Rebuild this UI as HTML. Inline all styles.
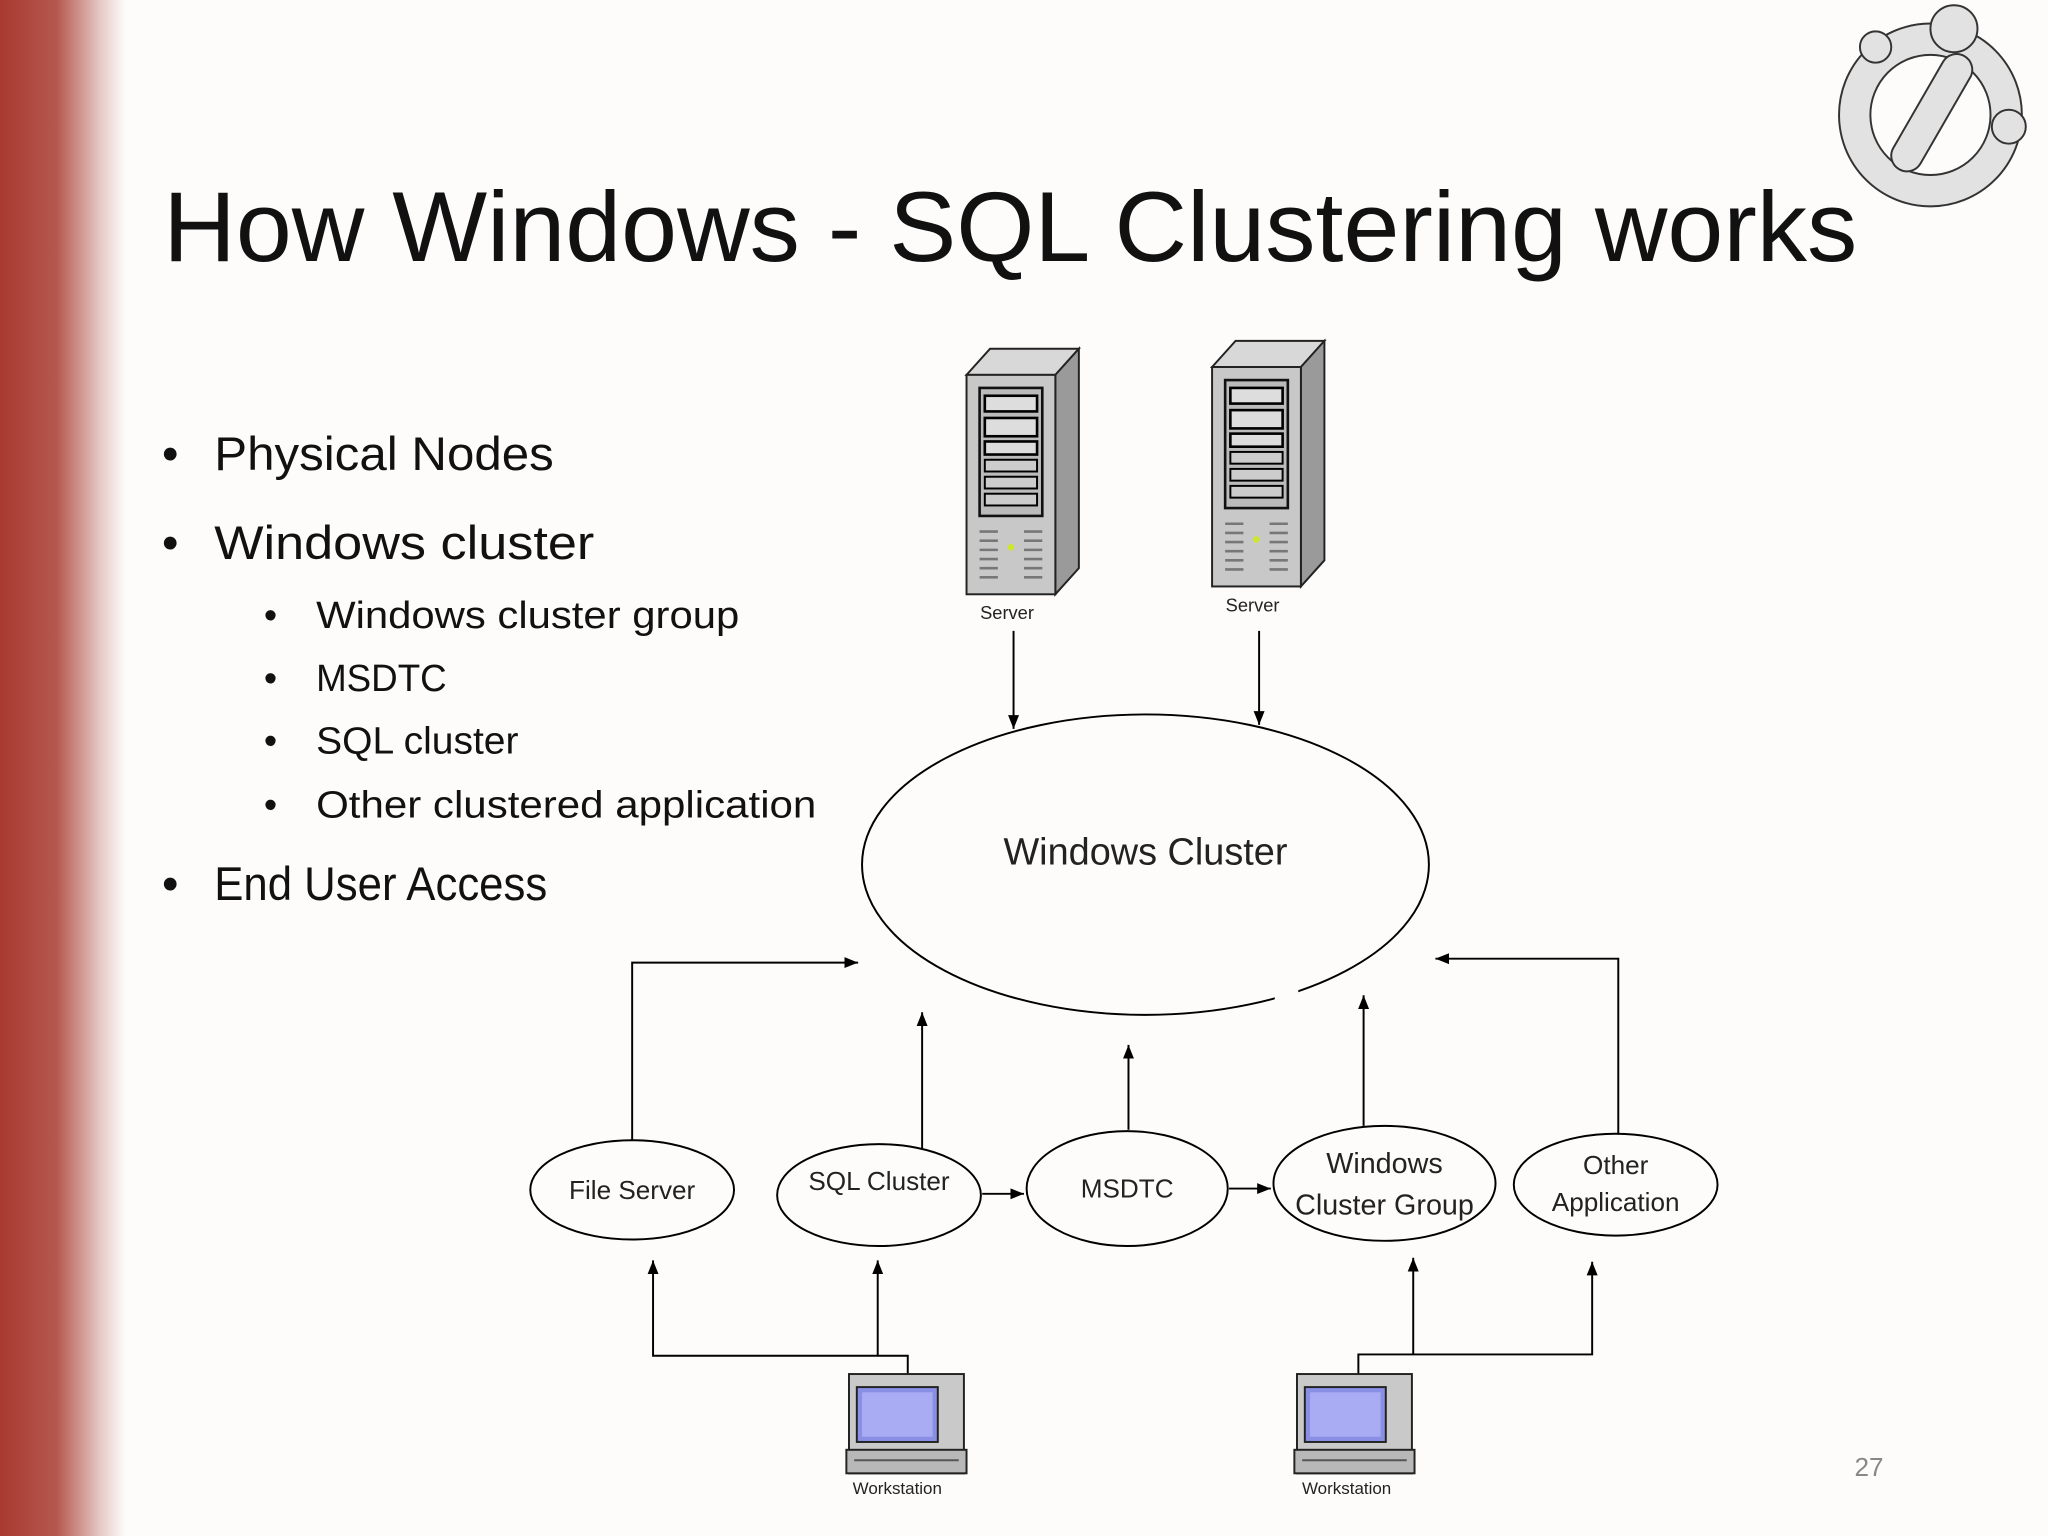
<!DOCTYPE html>
<html><head><meta charset="utf-8"><style>
html,body{margin:0;padding:0;background:#fdfcfb;}
svg{display:block;}
text{font-family:"Liberation Sans",sans-serif;}
</style></head><body>
<svg width="2048" height="1536" viewBox="0 0 1568 1176" xmlns="http://www.w3.org/2000/svg">
<defs>
<linearGradient id="rg" x1="0" x2="1" y1="0" y2="0">
<stop offset="0" stop-color="#a83a30"/><stop offset="0.45" stop-color="#b5574e"/><stop offset="0.8" stop-color="#e6c9c5"/><stop offset="1" stop-color="#fdfcfb"/>
</linearGradient>
<marker id="ar" viewBox="0 0 10 10" refX="10" refY="5" markerWidth="7" markerHeight="7" orient="auto-start-reverse"><path d="M0,1 L10,5 L0,9 z" fill="#000"/></marker>
<g id="srv">
<path d="M0,20 L18,0 L86,0 L68,20 z" fill="#d8d8d8" stroke="#222" stroke-width="1.5"/>
<path d="M68,20 L86,0 L86,168 L68,188 z" fill="#9a9a9a" stroke="#222" stroke-width="1.5"/>
<rect x="0" y="20" width="68" height="168" fill="#c8c8c8" stroke="#222" stroke-width="1.5"/>
<rect x="10" y="30" width="48" height="98" fill="#bbb" stroke="#111" stroke-width="2"/>
<rect x="14" y="36" width="40" height="12" fill="#ddd" stroke="#000" stroke-width="2"/>
<rect x="14" y="53" width="40" height="14" fill="#ddd" stroke="#000" stroke-width="2"/>
<rect x="14" y="71" width="40" height="10" fill="#ddd" stroke="#000" stroke-width="2"/>
<rect x="14" y="85" width="40" height="9" fill="#ccc" stroke="#000" stroke-width="1.5"/>
<rect x="14" y="98" width="40" height="9" fill="#ccc" stroke="#000" stroke-width="1.5"/>
<rect x="14" y="111" width="40" height="9" fill="#ccc" stroke="#000" stroke-width="1.5"/>
<g stroke="#777" stroke-width="2">
<line x1="10" y1="140" x2="24" y2="140"/><line x1="10" y1="147" x2="24" y2="147"/><line x1="10" y1="154" x2="24" y2="154"/><line x1="10" y1="161" x2="24" y2="161"/><line x1="10" y1="168" x2="24" y2="168"/><line x1="10" y1="175" x2="24" y2="175"/>
<line x1="44" y1="140" x2="58" y2="140"/><line x1="44" y1="147" x2="58" y2="147"/><line x1="44" y1="154" x2="58" y2="154"/><line x1="44" y1="161" x2="58" y2="161"/><line x1="44" y1="168" x2="58" y2="168"/><line x1="44" y1="175" x2="58" y2="175"/>
</g>
<circle cx="34" cy="152" r="2.5" fill="#cde82a"/>
</g>
<g id="ws">
<rect x="0" y="0" width="88" height="76" fill="#c9c9c9" stroke="#222" stroke-width="1.5"/>
<rect x="6" y="10" width="62" height="42" fill="#8a8fe6" stroke="#222" stroke-width="1.5"/>
<rect x="10" y="14" width="54" height="34" fill="#a9acf2"/>
<rect x="-2" y="58" width="92" height="18" fill="#b8b8b8" stroke="#222" stroke-width="1.5"/>
<line x1="4" y1="66" x2="84" y2="66" stroke="#555" stroke-width="1.5"/>
</g>
</defs>
<rect x="0" y="0" width="96" height="1176" fill="url(#rg)"/>
<!-- logo -->
<g transform="translate(1478,88)" fill="#e2e2e2" stroke="#333" stroke-width="1.5">
<circle cx="0" cy="0" r="70"/>
<circle cx="0" cy="0" r="46" fill="#fdfcfb"/>
<rect x="-12" y="-52" width="24" height="100" rx="12" transform="rotate(30)"/>
<circle cx="-42" cy="-52" r="12"/>
<circle cx="18" cy="-66" r="18"/>
<circle cx="60" cy="9" r="13"/>
</g>
<text x="125" y="200" font-size="76" fill="#111" textLength="1297" lengthAdjust="spacingAndGlyphs">How Windows - SQL Clustering works</text>
<g fill="#111">
<text x="124" y="360" font-size="36">•</text><text x="164" y="360" font-size="36" textLength="260" lengthAdjust="spacingAndGlyphs">Physical Nodes</text>
<text x="124" y="428" font-size="36">•</text><text x="164" y="428" font-size="36" textLength="291" lengthAdjust="spacingAndGlyphs">Windows cluster</text>
<text x="202" y="481" font-size="29">•</text><text x="242" y="481" font-size="29" textLength="324" lengthAdjust="spacingAndGlyphs">Windows cluster group</text>
<text x="202" y="529" font-size="29">•</text><text x="242" y="529" font-size="29" textLength="100" lengthAdjust="spacingAndGlyphs">MSDTC</text>
<text x="202" y="577" font-size="29">•</text><text x="242" y="577" font-size="29" textLength="155" lengthAdjust="spacingAndGlyphs">SQL cluster</text>
<text x="202" y="626" font-size="29">•</text><text x="242" y="626" font-size="29" textLength="383" lengthAdjust="spacingAndGlyphs">Other clustered application</text>
<text x="124" y="689" font-size="36">•</text><text x="164" y="689" font-size="36" textLength="255" lengthAdjust="spacingAndGlyphs">End User Access</text>
</g>
<use href="#srv" x="740" y="267"/>
<use href="#srv" x="928" y="261"/>
<text x="771" y="474" font-size="14" text-anchor="middle" fill="#222">Server</text>
<text x="959" y="468" font-size="14" text-anchor="middle" fill="#222">Server</text>
<g stroke="#000" stroke-width="1.5" fill="none">
<line x1="776" y1="483" x2="776" y2="558" marker-end="url(#ar)"/>
<line x1="964" y1="483" x2="964" y2="555" marker-end="url(#ar)"/>
<ellipse cx="877" cy="662" rx="217" ry="115"/>
<ellipse cx="484" cy="911" rx="78" ry="38"/>
<ellipse cx="673" cy="915" rx="78" ry="39"/>
<ellipse cx="863" cy="910" rx="77" ry="44"/>
<ellipse cx="1060" cy="906" rx="85" ry="44"/>
<ellipse cx="1237" cy="907" rx="78" ry="39"/>
</g>
<rect x="976" y="750" width="18" height="30" fill="#fdfcfb"/>
<g stroke="#000" stroke-width="1.5" fill="none">
<polyline points="484,873 484,737 657,737" marker-end="url(#ar)"/>
<line x1="706" y1="880" x2="706" y2="775" marker-end="url(#ar)"/>
<line x1="864" y1="865" x2="864" y2="800" marker-end="url(#ar)"/>
<line x1="1044" y1="862" x2="1044" y2="762" marker-end="url(#ar)"/>
<polyline points="1239,868 1239,734 1099,734" marker-end="url(#ar)"/>
<line x1="752" y1="914" x2="784" y2="914" marker-end="url(#ar)"/>
<line x1="941" y1="910" x2="973" y2="910" marker-end="url(#ar)"/>
<polyline points="695,1052 695,1038 500,1038 500,965" marker-end="url(#ar)"/>
<line x1="672" y1="1038" x2="672" y2="965" marker-end="url(#ar)"/>
<polyline points="1040,1052 1040,1037 1219,1037 1219,966" marker-end="url(#ar)"/>
<line x1="1082" y1="1037" x2="1082" y2="963" marker-end="url(#ar)"/>
</g>
<g fill="#222" text-anchor="middle">
<text x="877" y="662" font-size="29">Windows Cluster</text>
<text x="484" y="918" font-size="20">File Server</text>
<text x="673" y="911" font-size="20">SQL Cluster</text>
<text x="863" y="917" font-size="20">MSDTC</text>
<text x="1060" y="898" font-size="22">Windows</text>
<text x="1060" y="930" font-size="22">Cluster Group</text>
<text x="1237" y="899" font-size="20">Other</text>
<text x="1237" y="927" font-size="20">Application</text>
</g>
<use href="#ws" x="650" y="1052"/>
<use href="#ws" x="993" y="1052"/>
<text x="687" y="1144" font-size="13" text-anchor="middle" fill="#222">Workstation</text>
<text x="1031" y="1144" font-size="13" text-anchor="middle" fill="#222">Workstation</text>
<text x="1431" y="1130" font-size="20" text-anchor="middle" fill="#888">27</text>
</svg>
</body></html>
